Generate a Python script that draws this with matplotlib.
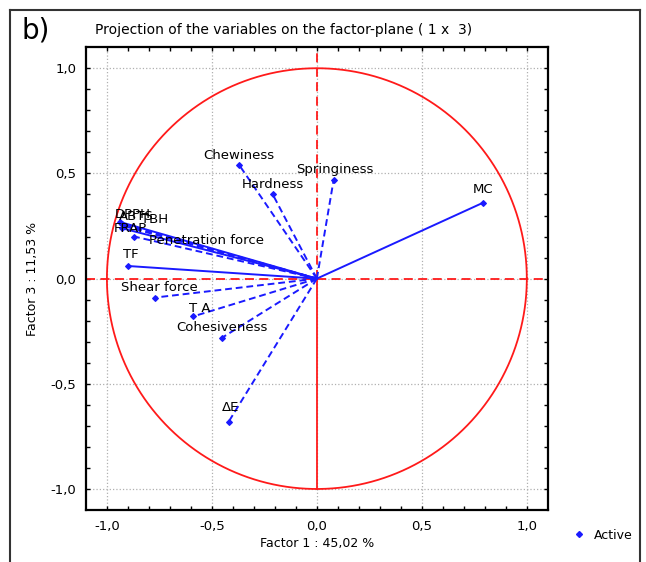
"""
Projection of the variables on the factor-plane (1 x 3), panel b.
"""
import numpy as np
import matplotlib
matplotlib.use("Agg")
import matplotlib.pyplot as plt
from matplotlib.lines import Line2D

# ---------------------------------------------------------------------------
# data
# ---------------------------------------------------------------------------
variables = ['MC', 'Springiness', 'Chewiness', 'Hardness', 'DPPH', 'ABTS',
             'TBH', 'FRAP', 'Penetration force', 'TF', 'Shear force', 'T A',
             'Cohesiveness', 'ΔE']
factor1 = [0.79, 0.08, -0.37, -0.21, -0.94, -0.93, -0.92, -0.93, -0.87,
           -0.90, -0.77, -0.59, -0.45, -0.42]
factor3 = [0.36, 0.47, 0.54, 0.40, 0.27, 0.26, 0.25, 0.24, 0.20,
           0.06, -0.09, -0.18, -0.28, -0.68]
solid = ['MC', 'TF', 'DPPH', 'FRAP']

tick_values = [-1.0, -0.5, 0.0, 0.5, 1.0]
tick_labels = ['-1,0', '-0,5', '0,0', '0,5', '1,0']

# label placement (pixels from the point, alignment)
label_pos = {
    'MC': (0, 13, 'center'),
    'Springiness': (1, 10, 'center'),
    'Chewiness': (0, 10, 'center'),
    'Hardness': (0, 10, 'center'),
    'DPPH': (-5, 7, 'left'),
    'ABTS': (-3, 7, 'left'),
    'TBH': (17, 7, 'left'),
    'FRAP': (-8, 0, 'left'),
    'Penetration force': (15, -4, 'left'),
    'TF': (3, 11, 'center'),
    'Shear force': (4, 10, 'center'),
    'T A': (7, 8, 'center'),
    'Cohesiveness': (0, 10, 'center'),
    'ΔE': (2, 14, 'center'),
}

blue = '#1a1aff'
red = '#ff1a1a'

fig = plt.figure(figsize=(6.46, 5.62), dpi=100)
ax = fig.add_axes([0.133, 0.0925, 0.715, 0.8235])

# unit circle and axes through origin
t = np.linspace(0, 2 * np.pi, 400)
ax.plot(np.cos(t), np.sin(t), color=red, lw=1.3, zorder=2)
ax.plot([-1.1, 1.1], [0, 0], color=red, lw=1.3, ls=(0, (5, 3)), zorder=2)
ax.plot([0, 0], [0, 1.1], color=red, lw=1.3, ls=(0, (5, 3)), zorder=2)
ax.plot([0, 0], [0, -1.0], color=red, lw=1.3, zorder=2)

# variable vectors
for name, x, y in zip(variables, factor1, factor3):
    ls = '-' if name in solid else (0, (3.5, 2))
    ax.plot([0, x], [0, y], color=blue, lw=1.4, ls=ls, zorder=3)
    dx, dy, ha = label_pos[name]
    ax.annotate(name, (x, y), xytext=(dx, dy), textcoords='offset pixels',
                ha=ha, va='center', fontsize=9.5, color='black', zorder=5)
ax.scatter(factor1, factor3, marker='D', s=8, color=blue, zorder=4)

ax.set_xlim(-1.1, 1.1)
ax.set_ylim(-1.1, 1.1)
ax.set_xticks(tick_values)
ax.set_xticklabels(tick_labels)
ax.set_yticks(tick_values)
ax.set_yticklabels(tick_labels)
ax.set_xticks(np.arange(-1.0, 1.05, 0.1), minor=True)
ax.set_yticks(np.arange(-1.0, 1.05, 0.1), minor=True)
ax.tick_params(which='both', direction='in', top=True, right=True,
               length=3, width=1, labelsize=9.5, pad=7)
ax.grid(True, which='major', color='#b0b0b0', ls=':', lw=0.9)
for s in ax.spines.values():
    s.set_linewidth(1.6)

ax.set_xlabel('Factor 1 : 45,02 %', fontsize=9, labelpad=3)
ax.set_ylabel('Factor 3 : 11,53 %', fontsize=9, labelpad=8)

# legend outside the plot
handle = Line2D([], [], marker='D', ls='none', color=blue, markersize=3)
fig.legend([handle], ['Active'], loc='center left', frameon=False,
           bbox_to_anchor=(0.86, 0.048), fontsize=9, handletextpad=0.2)

# panel frame, letter and title
fig.add_artist(Line2D([10 / 646, 640 / 646], [1 - 10 / 562, 1 - 10 / 562],
                      color='#333333', lw=1.5))
fig.add_artist(Line2D([10 / 646, 10 / 646], [1 - 10 / 562, 0],
                      color='#333333', lw=1.5))
fig.add_artist(Line2D([640 / 646, 640 / 646], [1 - 10 / 562, 0],
                      color='#333333', lw=1.5))
fig.text(22 / 646, 1 - 30 / 562, 'b)', fontsize=20, va='center')
fig.text(95 / 646, 1 - 30 / 562,
         'Projection of the variables on the factor-plane ( 1 x  3)',
         fontsize=10, va='center')

fig.savefig('out.png', dpi=100)
